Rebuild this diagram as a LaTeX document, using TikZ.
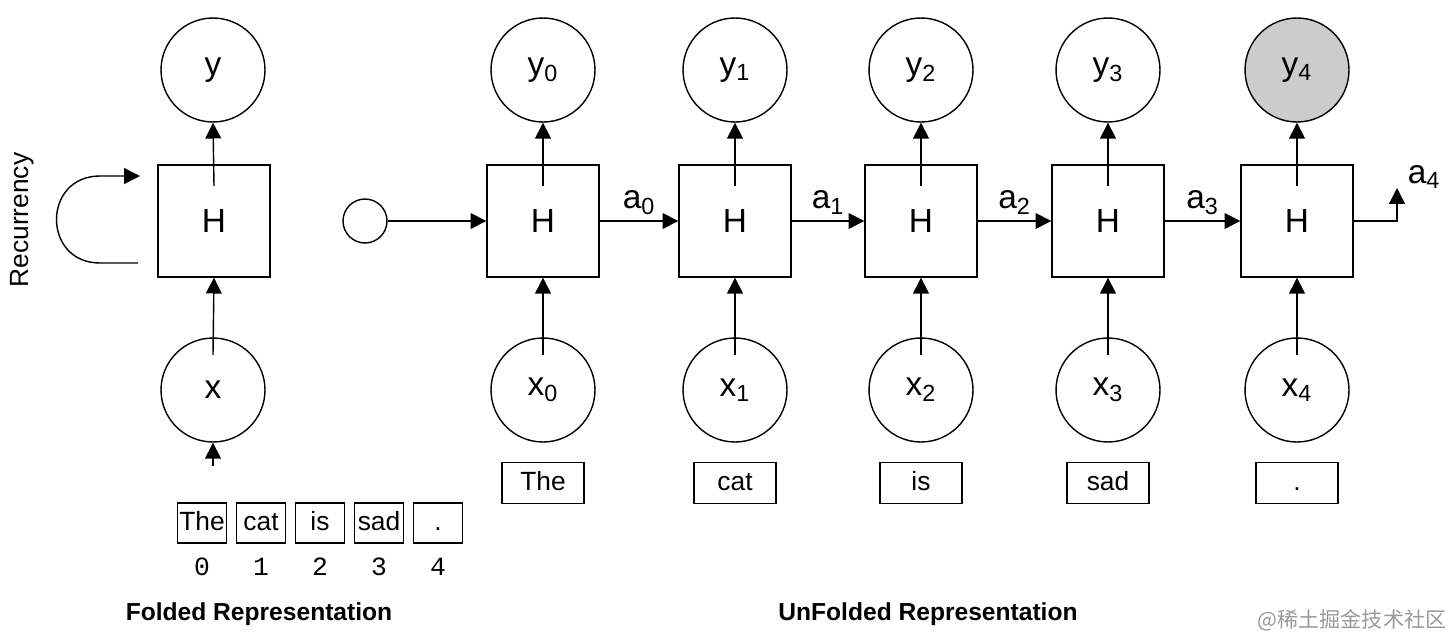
\documentclass[tikz,border=0pt]{standalone}
\usepackage{fontspec}
\setmainfont{Liberation Sans}
\newfontfamily\monofont{Liberation Mono}
\newfontfamily\cjk{Noto Sans CJK SC}
\usetikzlibrary{arrows.meta, positioning}

\begin{document}
\begin{tikzpicture}[
        x=0.02cm, y=-0.02cm,
        unit/.style={circle, draw, thick, minimum size=2.08cm, inner sep=0pt, font=\fontsize{19}{22}\selectfont},
        cell/.style={rectangle, draw, thick, minimum size=2.24cm, inner sep=0pt, font=\fontsize{19}{22}\selectfont},
        word/.style={rectangle, draw, thick, minimum width=1.64cm, minimum height=0.82cm, inner sep=0pt, text height=11pt, text depth=3pt, font=\fontsize{15}{18}\selectfont},
        token/.style={rectangle, draw, thick, minimum width=0.98cm, minimum height=0.8cm, inner sep=0pt, text height=11pt, text depth=3pt, font=\fontsize{15}{18}\selectfont},
        title/.style={font=\fontsize{14}{17}\selectfont\bfseries},
        tip/.style={-{Triangle[length=9pt, width=9pt]}},
        thick
    ]
    \useasboundingbox (0,0) rectangle (1450,639);

    % Folded representation
    \node[unit] (y) at (213,70) {y};
    \node[cell] (h) at (214,221) {H};
    \node[unit] (x) at (213,390) {x};
    \coordinate (feed) at (213,466);
    \draw[tip] ([yshift=20pt]x.center) -- (h.south);
    \draw[tip] ([yshift=20pt]h.center) -- (y.south);
    \draw[tip] (feed) -- (x.south);
    \coordinate (loopin) at (138,263);
    \coordinate (loopout) at (140,176);
    \draw[tip] (loopin) -- (100,263) .. controls (42,263) and (42,176) .. (100,176) -- (loopout);
    \node[rotate=90, font=\fontsize{15}{18}\selectfont] (rec) at (22,220) {Recurrency};

    % Tokens
    \foreach \w [count=\i from 0] in {The,cat,is,sad,.} {
        \node[token] (t\i) at (202+\i*59,523) {\w};
        \node[font=\fontsize{15}{18}\monofont] (n\i) at (202+\i*59,567) {\i};
    }

    % Unfolded representation
    \node[circle, draw, minimum size=0.88cm, inner sep=0pt] (a) at (365,221) {};
    \foreach \cx [count=\i from 0] in {543,735,921,1108,1297} {
        \node[cell] (h\i) at (\cx,221) {H};
        \node[unit] (x\i) at (\cx,390) {x\textsubscript{\i}};
        \draw[tip] ([yshift=20pt]x\i.center) -- (h\i.south);
    }
    \foreach \i in {0,...,3}
        \node[unit] (y\i) at (h\i |- y) {y\textsubscript{\i}};
    \node[unit, fill=black!20] (y4) at (h4 |- y) {y\textsubscript{4}};
    \foreach \i in {0,...,4}
        \draw[tip] ([yshift=20pt]h\i.center) -- (y\i.south);

    % Words
    \foreach \w [count=\i from 0] in {The,cat,is,sad,.}
        \node[word] (w\i) at (h\i |- 0,483) {\w};

    % Hidden states
    \draw[tip] (a) -- (h0);
    \foreach \i [evaluate=\i as \j using int(\i+1)] in {0,...,3}
        \draw[tip] (h\i) -- node[above, font=\fontsize{19}{22}\selectfont] {a\textsubscript{\i}} (h\j);
    \coordinate (out) at (1397,188);
    \draw[tip] (h4.east) -| (out);
    \node[font=\fontsize{19}{22}\selectfont] (a4) at (1424,177) {a\textsubscript{4}};

    % Titles
    \node[title] (fold) at (259,614) {Folded Representation};
    \node[title] (unfold) at (928,614) {UnFolded Representation};
    \node[text=black!40, font=\fontsize{12}{14}\cjk] (mark) at (1352,620) {@稀土掘金技术社区};
\end{tikzpicture}
\end{document}
